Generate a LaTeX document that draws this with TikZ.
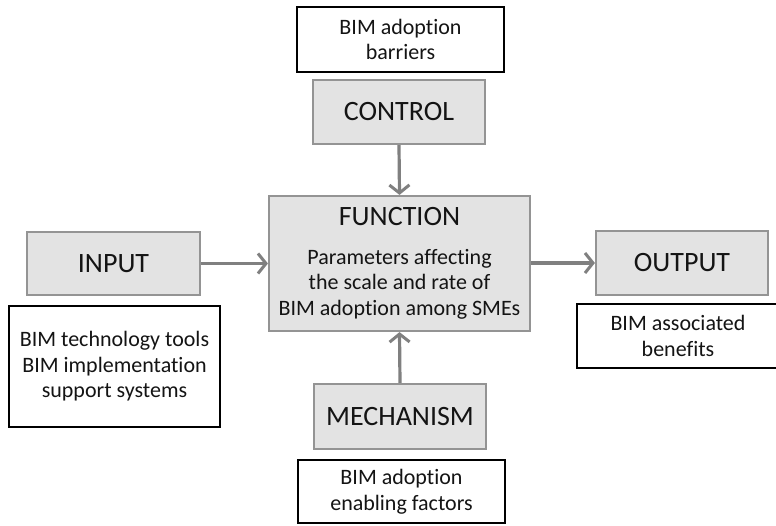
\documentclass[tikz,border=0pt]{standalone}
\usepackage{fontspec}
\setmainfont{Carlito}[Ligatures=NoCommon]
\usetikzlibrary{arrows.meta}
\newcommand{\tfont}{\fontsize{28}{32}\selectfont}
\newcommand{\bfont}{\fontsize{22}{25.5}\selectfont}
\begin{document}
\begin{tikzpicture}[x=1pt,y=-1pt,
  graybox/.style={rectangle, draw=black!42, line width=2.2pt, fill=black!11, inner sep=0pt,
    font=\tfont, text=black!92},
  textbox/.style={rectangle, draw=black, line width=2.6pt, fill=white, inner sep=0pt,
    font=\bfont, align=center, text=black!92},
  conn/.style={draw=black!50, line width=3.2pt,
    -{Straight Barb[length=8pt,width=20pt,line width=3pt]}}
]
\useasboundingbox (0,0) rectangle (776,525);
\fill[white] (0,0) rectangle (776,525);

\node[textbox, minimum width=207pt, minimum height=65pt] (barriers) at (400.5,39.5) {BIM adoption\\barriers};
\node[graybox, minimum width=172pt, minimum height=64pt] (control) at (399,112) {CONTROL};

\node[graybox, minimum width=261pt, minimum height=135pt, font=\bfont, align=center] (function) at (399.5,263.5)
  {{\tfont FUNCTION}\\[13pt]Parameters affecting\\the scale and rate of\\BIM adoption among SMEs};

\node[graybox, minimum width=173pt, minimum height=63pt] (input) at (113.5,263.5) {INPUT};
\node[textbox, minimum width=211pt, minimum height=121pt] (inputtext) at (114.5,366.5)
  {BIM technology tools\\BIM implementation\\support systems};

\node[graybox, minimum width=172pt, minimum height=64pt] (output) at (682,263) {OUTPUT};
\node[textbox, minimum width=202pt, minimum height=64pt] (outputtext) at (678,336) {BIM associated\\benefits};

\node[graybox, minimum width=172pt, minimum height=65pt] (mechanism) at (400,416.5) {MECHANISM};
\node[textbox, minimum width=207pt, minimum height=63pt] (enabling) at (401.5,491.5) {BIM adoption\\enabling factors};

\draw[conn] (control.south) -- (function.north);
\draw[conn] (mechanism.north) -- (function.south);
\draw[conn] (input.east) -- (input.east -| function.west);
\draw[conn] (function.east |- output.west) -- (output.west);
\end{tikzpicture}
\end{document}
